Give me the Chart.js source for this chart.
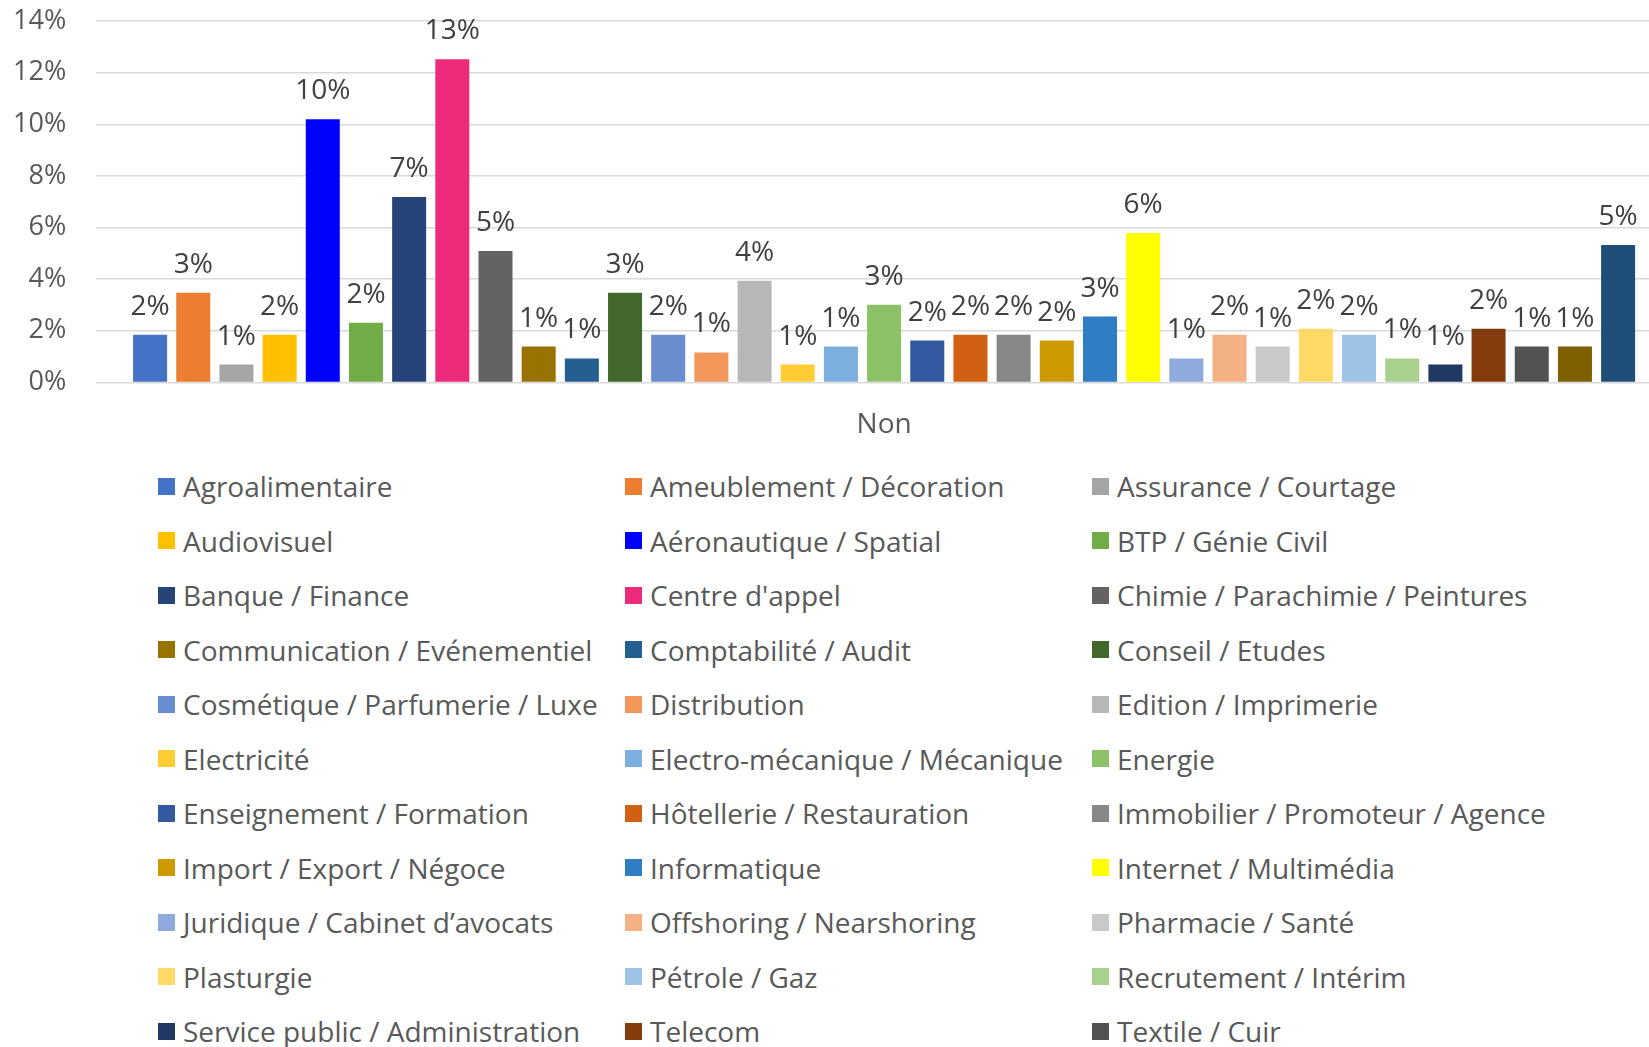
<!DOCTYPE html>
<html>
<head>
<meta charset="utf-8">
<script src="https://cdn.jsdelivr.net/npm/chart.js@4.4.0/dist/chart.umd.min.js"></script>
<style>
html, body { margin: 0; padding: 0; background: #fff; overflow: hidden; width: 1649px; height: 1047px; }
#wrap { position: absolute; left: 0; top: 0; width: 1672px; height: 447px; }
#legend {
    position: absolute; left: 158px; top: 459px;
    display: grid; grid-template-columns: 467px 467px 467px; grid-auto-rows: 54.5px;
    font-family: 'Open Sans', sans-serif; font-size: 28px; color: #595959;
}
.item { display: flex; align-items: center; white-space: nowrap; }
.box { width: 17px; height: 17px; margin-right: 8px; flex: none; }
</style>
</head>
<body>
<div id="wrap"><canvas id="myChart"></canvas></div>
<div id="legend"></div>
<script>
const categories = ['Non'];

const sectors = [
    'Agroalimentaire', 'Ameublement / Décoration', 'Assurance / Courtage',
    'Audiovisuel', 'Aéronautique / Spatial', 'BTP / Génie Civil',
    'Banque / Finance', "Centre d'appel", 'Chimie / Parachimie / Peintures',
    'Communication / Evénementiel', 'Comptabilité / Audit', 'Conseil / Etudes',
    'Cosmétique / Parfumerie / Luxe', 'Distribution', 'Edition / Imprimerie',
    'Electricité', 'Electro-mécanique / Mécanique', 'Energie',
    'Enseignement / Formation', 'Hôtellerie / Restauration', 'Immobilier / Promoteur / Agence',
    'Import / Export / Négoce', 'Informatique', 'Internet / Multimédia',
    'Juridique / Cabinet d’avocats', 'Offshoring / Nearshoring', 'Pharmacie / Santé',
    'Plasturgie', 'Pétrole / Gaz', 'Recrutement / Intérim',
    'Service public / Administration', 'Telecom', 'Textile / Cuir',
    'Tourisme / Loisirs', 'Transport / Logistique'
];

// share of answers "Non", in %
const shares = [
    1.85, 3.47, 0.69, 1.85, 10.19, 2.31, 7.18, 12.52, 5.09,
    1.39, 0.93, 3.47, 1.85, 1.16, 3.94, 0.69, 1.39, 3.01,
    1.62, 1.85, 1.85, 1.62, 2.55, 5.79, 0.93, 1.85, 1.39,
    2.08, 1.85, 0.93, 0.69, 2.08, 1.39, 1.39, 5.32
];

const colors = [
    '#4472C4', '#ED7D31', '#A5A5A5', '#FFC000', '#0000FF', '#70AD47',
    '#264478', '#EE2A7B', '#636363', '#997300', '#255E91', '#43682B',
    '#698ED0', '#F1975A', '#B7B7B7', '#FFCD33', '#7CAFDD', '#8CC168',
    '#335AA1', '#D26012', '#878787', '#CC9A00', '#2F7DC2', '#FFFF00',
    '#8FAADC', '#F4B183', '#C9C9C9', '#FFD966', '#9DC3E6', '#A9D18E',
    '#203864', '#843C0C', '#525252', '#7F6000', '#1F4E79'
];

const yTicks = [0, 2, 4, 6, 8, 10, 12, 14];

Chart.defaults.font.family = "'Open Sans', sans-serif";
Chart.defaults.color = '#595959';

// values written above each bar
const barLabels = {
    id: 'barLabels',
    afterDatasetsDraw(chart) {
        const c = chart.ctx;
        c.save();
        c.font = "28px 'Open Sans', sans-serif";
        c.fillStyle = '#404040';
        c.textAlign = 'center';
        c.textBaseline = 'alphabetic';
        chart.data.datasets.forEach((ds, i) => {
            chart.getDatasetMeta(i).data.forEach((bar, j) => {
                c.fillText(Math.round(ds.data[j]) + '%', bar.x, bar.y - 20);
            });
        });
        c.restore();
    }
};

const ctx = document.getElementById('myChart').getContext('2d');

const myChart = new Chart(ctx, {
    type: 'bar',
    data: {
        labels: categories,
        datasets: sectors.map((name, i) => ({
            label: name,
            data: [shares[i]],
            backgroundColor: colors[i],
            categoryPercentage: 0.959,
            barPercentage: 0.788
        }))
    },
    options: {
        responsive: true,
        maintainAspectRatio: false,
        animation: false,
        layout: { padding: { top: 21, left: 13, right: 0, bottom: 5 } },
        plugins: {
            legend: { display: false },
            tooltip: { enabled: false }
        },
        scales: {
            x: {
                grid: { display: false, drawTicks: false },
                border: { display: false },
                ticks: { padding: 26, font: { size: 28 } },
                afterFit: axis => { axis.height = 26 + 28 * 1.2; }
            },
            y: {
                min: yTicks[0],
                max: yTicks[yTicks.length - 1],
                afterBuildTicks: axis => { axis.ticks = yTicks.map(v => ({ value: v })); },
                ticks: { padding: 30, font: { size: 27 }, callback: v => v + '%' },
                grid: { color: '#D9D9D9', lineWidth: 1.5, drawTicks: false },
                border: { display: false },
                afterFit: axis => {
                    axis.width -= 30;
                    axis.paddingTop = 0;
                    axis.paddingBottom = 0;
                }
            }
        }
    },
    plugins: [barLabels]
});

// legend laid out in three columns like the original
const legend = document.getElementById('legend');
myChart.data.datasets.forEach(ds => {
    const item = document.createElement('div');
    item.className = 'item';
    const box = document.createElement('span');
    box.className = 'box';
    box.style.background = ds.backgroundColor;
    const txt = document.createElement('span');
    txt.textContent = ds.label;
    item.appendChild(box);
    item.appendChild(txt);
    legend.appendChild(item);
});
</script>
</body>
</html>
